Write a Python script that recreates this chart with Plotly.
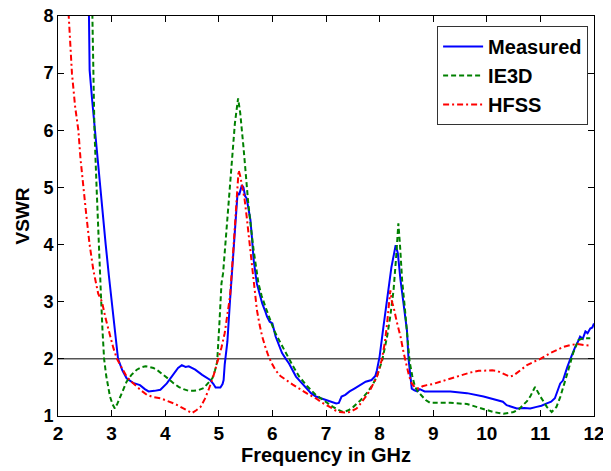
import plotly.graph_objects as go

# ---- Data ----
freq_measured = [2.57, 2.58, 2.59, 2.64, 2.69, 2.74, 2.78, 2.84, 2.89, 2.95, 3.0, 3.06, 3.12, 3.2, 3.28, 3.4,
                 3.53, 3.62, 3.69, 3.8, 3.91, 4.03, 4.1, 4.16, 4.24, 4.31, 4.38, 4.44, 4.5, 4.56, 4.69, 4.78,
                 4.84, 4.9, 4.94, 5.0, 5.03, 5.07, 5.09, 5.11, 5.16, 5.21, 5.26, 5.3, 5.35, 5.38, 5.41, 5.43,
                 5.46, 5.49, 5.52, 5.56, 5.59, 5.62, 5.65, 5.71, 5.76, 5.81, 5.86, 5.9, 5.95, 6.0, 6.06, 6.12,
                 6.18, 6.25, 6.31, 6.44, 6.55, 6.63, 6.72, 6.81, 6.9, 7.0, 7.1, 7.19, 7.24, 7.29, 7.36, 7.44,
                 7.53, 7.63, 7.74, 7.85, 7.92, 7.95, 8.0, 8.07, 8.14, 8.22, 8.3, 8.34, 8.39, 8.45, 8.51, 8.54,
                 8.57, 8.6, 8.65, 8.7, 8.75, 8.79, 8.84, 9.32, 9.63, 9.94, 10.19, 10.3, 10.37, 10.47, 10.56,
                 10.7, 10.81, 10.93, 11.02, 11.12, 11.2, 11.27, 11.32, 11.37, 11.42, 11.46, 11.5, 11.55, 11.6,
                 11.65, 11.7, 11.74, 11.79, 11.84, 11.88, 11.93, 11.97, 12.0]
vswr_measured = [8.6, 8.0, 7.05, 6.5, 6.0, 5.5, 5.0, 4.45, 4.0, 3.45, 3.0, 2.45, 2.0, 1.8, 1.66, 1.58,
                 1.54, 1.47, 1.43, 1.44, 1.46, 1.57, 1.66, 1.75, 1.84, 1.89, 1.86, 1.87, 1.84, 1.81, 1.72, 1.67,
                 1.63, 1.56, 1.5, 1.5, 1.5, 1.56, 1.63, 1.9, 2.3, 3.03, 3.7, 4.2, 4.9, 4.87, 4.95, 5.04,
                 5.0, 4.85, 4.81, 4.6, 4.43, 4.1, 3.73, 3.32, 3.12, 2.97, 2.85, 2.74, 2.65, 2.62, 2.39, 2.25,
                 2.1, 2.0, 1.92, 1.69, 1.57, 1.48, 1.4, 1.34, 1.31, 1.28, 1.25, 1.22, 1.23, 1.34, 1.37, 1.43,
                 1.48, 1.54, 1.6, 1.63, 1.7, 1.8, 2.04, 2.55, 3.09, 3.6, 3.99, 3.85, 3.38, 2.95, 2.5, 2.0,
                 1.7, 1.48, 1.45, 1.43, 1.47, 1.45, 1.43, 1.43, 1.4, 1.34, 1.28, 1.25, 1.19, 1.16, 1.13,
                 1.14, 1.13, 1.16, 1.18, 1.22, 1.25, 1.31, 1.45, 1.57, 1.62, 1.75, 1.85, 1.98, 2.1,
                 2.21, 2.3, 2.39, 2.35, 2.48, 2.45, 2.53, 2.55, 2.62]

freq_ie3d = [2.63, 2.64, 2.66, 2.68, 2.72, 2.77, 2.8, 2.83, 2.86, 2.9, 2.94, 2.97, 3.02, 3.06, 3.11, 3.16,
             3.22, 3.28, 3.37, 3.47, 3.55, 3.63, 3.7, 3.78, 3.87, 3.97, 4.06, 4.16, 4.25, 4.34, 4.44, 4.53,
             4.61, 4.72, 4.8, 4.88, 4.93, 4.97, 5.01, 5.05, 5.08, 5.12, 5.15, 5.2, 5.24, 5.3, 5.36, 5.4,
             5.46, 5.52, 5.55, 5.6, 5.65, 5.74, 5.8, 5.87, 5.95, 6.03, 6.14, 6.25, 6.38, 6.5, 6.65, 6.81,
             6.97, 7.13, 7.22, 7.32, 7.42, 7.51, 7.64, 7.76, 7.86, 7.95, 8.05, 8.14, 8.2, 8.26, 8.31, 8.35,
             8.38, 8.42, 8.47, 8.51, 8.56, 8.61, 8.66, 8.72, 8.79, 8.86, 8.94, 9.32, 9.63, 9.94, 10.12,
             10.31, 10.5, 10.6, 10.68, 10.75, 10.81, 10.9, 11.0, 11.06, 11.12, 11.21, 11.3, 11.37, 11.43,
             11.52, 11.61, 11.71, 11.8, 11.93]
vswr_ie3d = [8.6, 8.0, 7.0, 6.0, 5.0, 4.0, 3.14, 2.5, 2.0, 1.7, 1.45, 1.34, 1.2, 1.13, 1.22, 1.34,
             1.47, 1.6, 1.72, 1.81, 1.85, 1.87, 1.86, 1.84, 1.79, 1.72, 1.65, 1.57, 1.51, 1.47, 1.44, 1.44,
             1.45, 1.49, 1.57, 1.66, 1.8, 1.95, 2.6, 3.32, 3.5, 4.0, 4.4, 5.0, 5.54, 6.12, 6.56, 6.3,
             5.71, 5.01, 4.72, 4.3, 3.9, 3.32, 3.1, 2.91, 2.7, 2.5, 2.3, 2.1, 1.88, 1.69, 1.52, 1.37,
             1.26, 1.16, 1.11, 1.07, 1.1, 1.16, 1.27, 1.4, 1.53, 1.69, 1.98, 2.39, 2.75, 3.2, 3.8, 4.37,
             4.0, 3.38, 2.9, 2.5, 1.95, 1.7, 1.51, 1.42, 1.34, 1.28, 1.23, 1.23, 1.21, 1.13, 1.07,
             1.04, 1.07, 1.12, 1.19, 1.26, 1.34, 1.51, 1.34, 1.24, 1.16, 1.07, 1.16, 1.33, 1.51,
             1.8, 2.1, 2.33, 2.36, 2.36]

freq_hfss = [2.17, 2.2, 2.23, 2.26, 2.32, 2.38, 2.42, 2.47, 2.53, 2.59, 2.66, 2.75, 2.82, 2.89, 2.96, 3.03,
             3.1, 3.2, 3.28, 3.37, 3.47, 3.56, 3.66, 3.78, 3.91, 4.04, 4.16, 4.25, 4.34, 4.42, 4.5, 4.58,
             4.66, 4.74, 4.81, 4.9, 4.97, 5.05, 5.11, 5.16, 5.21, 5.27, 5.33, 5.37, 5.4, 5.43, 5.48, 5.52,
             5.57, 5.62, 5.66, 5.71, 5.76, 5.81, 5.87, 5.93, 6.0, 6.06, 6.15, 6.25, 6.38, 6.5, 6.65, 6.81,
             6.95, 7.07, 7.17, 7.26, 7.35, 7.44, 7.52, 7.57, 7.63, 7.7, 7.76, 7.82, 7.88, 7.95, 8.04, 8.1,
             8.14, 8.2, 8.23, 8.26, 8.32, 8.39, 8.45, 8.51, 8.55, 8.6, 8.66, 8.73, 8.8, 8.88, 9.0, 9.13,
             9.3, 9.44, 9.69, 9.85, 10.0, 10.1, 10.19, 10.3, 10.43, 10.5, 10.56, 10.65, 10.75, 10.88,
             11.0, 11.18, 11.3, 11.43, 11.55, 11.68, 11.84, 11.95]
vswr_hfss = [8.3, 8.0, 7.5, 7.0, 6.41, 6.0, 5.5, 5.0, 4.5, 4.0, 3.55, 3.14, 3.0, 2.7, 2.44, 2.2,
             2.0, 1.82, 1.69, 1.6, 1.51, 1.44, 1.37, 1.33, 1.31, 1.27, 1.22, 1.18, 1.13, 1.09, 1.05, 1.1,
             1.16, 1.3, 1.46, 1.7, 1.92, 2.2, 2.45, 2.75, 3.1, 3.9, 4.78, 5.3, 5.2, 5.07, 4.8, 4.49,
             4.05, 3.61, 3.2, 2.86, 2.6, 2.39, 2.2, 2.04, 1.9, 1.8, 1.7, 1.63, 1.55, 1.48, 1.39, 1.31,
             1.22, 1.16, 1.1, 1.07, 1.06, 1.07, 1.1, 1.13, 1.2, 1.28, 1.36, 1.45, 1.56, 1.69, 1.98, 2.3,
             2.62, 3.2, 3.0, 2.91, 2.65, 2.39, 2.1, 1.86, 1.7, 1.57, 1.5, 1.48, 1.52, 1.54, 1.56, 1.6,
             1.65, 1.69, 1.76, 1.79, 1.8, 1.8, 1.79, 1.74, 1.69, 1.71, 1.75, 1.82, 1.89, 1.95,
             2.0, 2.1, 2.15, 2.21, 2.24, 2.26, 2.24, 2.23]

x_ticks = [2, 3, 4, 5, 6, 7, 8, 9, 10, 11, 12]
y_ticks = [1, 2, 3, 4, 5, 6, 7, 8]
ref_vswr = 2

FONT = "Liberation Sans, Arial, sans-serif"

fig = go.Figure()
fig.add_trace(go.Scatter(x=freq_measured, y=vswr_measured, mode="lines", name="Measured",
                         line=dict(color="#0000ff", width=2)))
fig.add_trace(go.Scatter(x=freq_ie3d, y=vswr_ie3d, mode="lines", name="IE3D",
                         line=dict(color="#008000", width=2, dash="5px,3px")))
fig.add_trace(go.Scatter(x=freq_hfss, y=vswr_hfss, mode="lines", name="HFSS",
                         line=dict(color="#ff0000", width=2, dash="6px,3px,2px,3px")))

fig.add_shape(type="line", xref="x", yref="y", x0=x_ticks[0], x1=x_ticks[-1], y0=ref_vswr, y1=ref_vswr,
              line=dict(color="#555555", width=1.5), layer="below")

axis_common = dict(showline=True, linecolor="black", linewidth=1, mirror="ticks", ticks="inside",
                   ticklen=6, tickcolor="black", showgrid=False, zeroline=False, automargin=False,
                   ticklabeloverflow="allow")

fig.update_xaxes(range=[2, 12], tickvals=x_ticks, ticktext=[str(v) for v in x_ticks],
                 tickfont=dict(family=FONT, size=19, color="black", weight="bold"),
                 title=dict(text="Frequency in GHz", font=dict(family=FONT, size=20, color="black", weight="bold"),
                            standoff=4),
                 **axis_common)
fig.update_yaxes(range=[1, 8], tickvals=y_ticks, ticktext=[str(v) for v in y_ticks],
                 tickfont=dict(family=FONT, size=18, color="black", weight="bold"),
                 title=dict(text="VSWR", font=dict(family=FONT, size=19, color="black", weight="bold"),
                            standoff=8),
                 **axis_common)

# The page body has an 8px margin, so the figure is offset by (8, 8) in the window.
fig.update_layout(
    width=603, height=463,
    margin=dict(l=50, r=17, t=8, b=55, autoexpand=False),
    paper_bgcolor="white", plot_bgcolor="white",
    showlegend=True,
    legend=dict(x=0.989, y=0.975, xanchor="right", yanchor="top",
                bgcolor="white", bordercolor="#333333", borderwidth=1,
                font=dict(family=FONT, size=20, color="black", weight="bold"),
                tracegroupgap=0, itemwidth=40),
)

fig.write_html("out.html")
